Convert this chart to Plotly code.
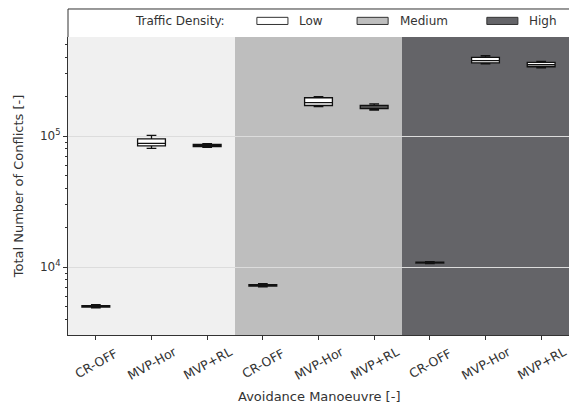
import plotly.graph_objects as go

# ---- data ----
manoeuvres = ["CR-OFF", "MVP-Hor", "MVP+RL"]
densities = ["Low", "Medium", "High"]
tick_labels = manoeuvres * 3
medians = [5000, 88000, 84500, 7250, 180000, 166000, 10800, 376000, 350000]
q1s = [4950, 84000, 83000, 7150, 171000, 162000, 10700, 362000, 338000]
q3s = [5080, 95000, 86500, 7350, 196000, 171000, 10900, 398000, 365000]
lows = [4880, 80500, 82000, 7050, 168000, 158000, 10600, 355000, 332000]
highs = [5150, 101000, 87500, 7450, 200000, 176000, 11000, 410000, 372000]
region_colors = ["#f0f0f0", "#bebebe", "#646468"]
swatch_colors = ["#ffffff", "#bebebe", "#646468"]

xpos = list(range(len(tick_labels)))
FONT = "DejaVu Sans"
TXT = "#333333"

fig = go.Figure()
fig.add_trace(go.Box(
    x=xpos, q1=q1s, median=medians, q3=q3s,
    lowerfence=lows, upperfence=highs,
    boxpoints=False, width=0.5, whiskerwidth=0.35,
    fillcolor="white", line=dict(color="#111111", width=1.3),
    showlegend=False, hoverinfo="skip",
))

shapes = []
for i, col in enumerate(region_colors):
    shapes.append(dict(type="rect", xref="x", yref="paper",
                       x0=i * 3 - 0.5, x1=i * 3 + 2.5, y0=0, y1=1,
                       fillcolor=col, line=dict(width=0), layer="below"))
# legend band above the axes
band_top = 1.094
shapes.append(dict(type="rect", xref="paper", yref="paper", x0=0, x1=1,
                   y0=1, y1=band_top, fillcolor="white",
                   line=dict(width=0), layer="above"))
shapes.append(dict(type="line", xref="paper", yref="paper", x0=0, x1=1,
                   y0=band_top, y1=band_top, line=dict(color=TXT, width=1)))
shapes.append(dict(type="line", xref="paper", yref="paper", x0=0, x1=0,
                   y0=1, y1=band_top, line=dict(color=TXT, width=1)))

annotations = [dict(text="Traffic Density:", xref="paper", yref="paper",
                    x=0.318, y=1.054, xanchor="right", yanchor="middle",
                    showarrow=False, font=dict(family=FONT, size=12, color=TXT))]
sw_x = [0.377, 0.577, 0.836]
for d, c, sx in zip(densities, swatch_colors, sw_x):
    shapes.append(dict(type="rect", xref="paper", yref="paper",
                       x0=sx, x1=sx + 0.062, y0=1.042, y1=1.066,
                       fillcolor=c, line=dict(color=TXT, width=1), layer="above"))
    annotations.append(dict(text=d, xref="paper", yref="paper",
                            x=sx + 0.081, y=1.054, xanchor="left", yanchor="middle",
                            showarrow=False,
                            font=dict(family=FONT, size=12, color=TXT)))

# rotated category labels, centred under each tick
for xp, lab in zip(xpos, tick_labels):
    annotations.append(dict(text=lab, xref="x", yref="paper", x=xp, y=-0.094,
                            xanchor="center", yanchor="middle", textangle=-29,
                            showarrow=False,
                            font=dict(family=FONT, size=12.5, color=TXT)))
annotations.append(dict(text="Avoidance Manoeuvre [-]", xref="paper", yref="paper",
                        x=0.5, y=-0.205, xanchor="center", yanchor="middle",
                        showarrow=False, font=dict(family=FONT, size=13, color=TXT)))

minor_vals = [m * 10 ** e for e in (3, 4, 5) for m in range(2, 10)]

fig.update_layout(
    width=569, height=405,
    margin=dict(l=68, r=0, t=37, b=70),
    paper_bgcolor="white", plot_bgcolor="white",
    font=dict(family=FONT, size=12, color=TXT),
    shapes=shapes, annotations=annotations,
    xaxis=dict(
        range=[-0.5, 8.5], tickmode="array", tickvals=xpos,
        showticklabels=False,
        ticks="outside", ticklen=4, tickcolor=TXT,
        showgrid=False, zeroline=False, showline=True, linecolor=TXT,
        linewidth=1, mirror=False,
    ),
    yaxis=dict(
        type="log", range=[3.481, 5.756],
        tickmode="array", tickvals=[1e4, 1e5],
        ticktext=["10<sup>4</sup>", "10<sup>5</sup>"],
        ticks="outside", ticklen=4, tickcolor=TXT,
        showgrid=True, gridcolor="#dcdcdc", gridwidth=1.2,
        zeroline=False, showline=True, linecolor=TXT, linewidth=1, mirror=False,
        minor=dict(tickmode="array", tickvals=minor_vals, ticks="outside",
                   ticklen=2, tickcolor=TXT, showgrid=False),
        title=dict(text="Total Number of Conflicts [-]", standoff=13,
                   font=dict(family=FONT, size=13)),
        tickfont=dict(family=FONT, size=12),
    ),
)

fig.write_html("out.html", config={"displayModeBar": False},
               post_script="document.body.style.margin='0px';")
